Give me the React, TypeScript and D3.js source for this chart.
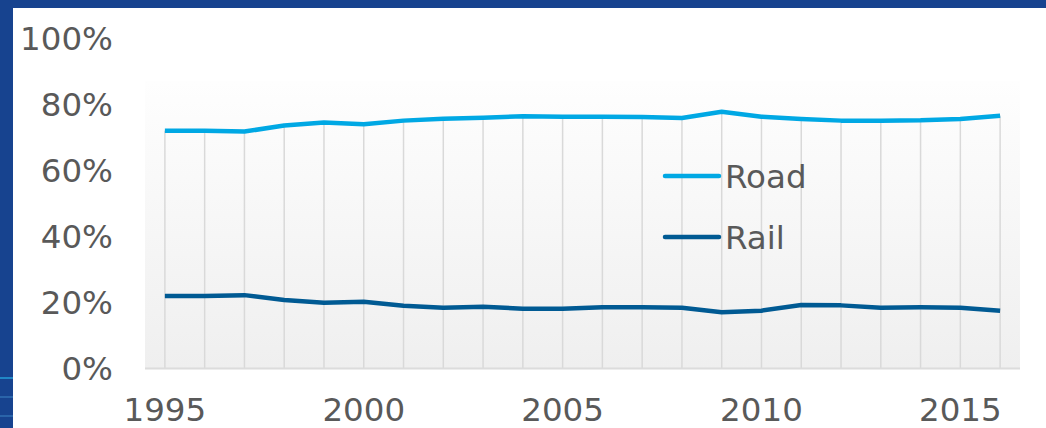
import React from 'react';
import * as d3 from 'd3';

const years = [1995, 1996, 1997, 1998, 1999, 2000, 2001, 2002, 2003, 2004, 2005, 2006, 2007, 2008, 2009, 2010, 2011, 2012, 2013, 2014, 2015, 2016];
const road = [71.9, 71.9, 71.7, 73.5, 74.4, 73.9, 75.0, 75.6, 75.9, 76.3, 76.2, 76.2, 76.1, 75.8, 77.7, 76.2, 75.5, 75.0, 75.0, 75.1, 75.5, 76.5];
const rail = [21.9, 21.9, 22.2, 20.7, 19.9, 20.2, 19.0, 18.4, 18.7, 18.1, 18.1, 18.5, 18.5, 18.4, 17.0, 17.5, 19.2, 19.1, 18.4, 18.5, 18.4, 17.5];
const yTicks = [0, 20, 40, 60, 80, 100];
const xTickYears = [1995, 2000, 2005, 2010, 2015];

const seriesNames = ['Road', 'Rail'];
const seriesColors = ['#00a8e4', '#005a93'];

const W = 1046;
const H = 428;
const plotLeft = 145;
const plotRight = 1020;
const plotTop = 81;
const plotBottom = 368.5;
const font = '"DejaVu Sans", Verdana, sans-serif';
const fontSize = 32.5;
const textColor = '#595959';

const App: React.FC = () => {
  const x = d3.scalePoint<number>()
    .domain(years)
    .range([plotLeft, plotRight])
    .padding(0.5);

  const y = d3.scaleLinear()
    .domain([0, 100])
    .range([plotBottom, 38]);

  const line = d3.line<number>()
    .x((_, i) => x(years[i]) as number)
    .y(d => y(d));

  const series = [road, rail];

  return (
    <svg width={W} height={H} style={{ position: 'absolute', left: 0, top: 0 }}>
      <defs>
        <linearGradient id="plotBg" x1="0" y1="0" x2="0" y2="1">
          <stop offset="0%" stopColor="#fefefe" />
          <stop offset="100%" stopColor="#efefef" />
        </linearGradient>
      </defs>
      <rect x={0} y={0} width={W} height={H} fill="#ffffff" />

      {/* frame */}
      <rect x={0} y={0} width={W} height={8} fill="#17438f" />
      <rect x={0} y={0} width={13} height={H} fill="#17438f" />
      <line x1={0} x2={13} y1={378} y2={378} stroke="#29b6ec" strokeWidth={1.2} />
      <line x1={0} x2={13} y1={397} y2={397} stroke="#3f86c4" strokeWidth={1} />
      <line x1={0} x2={13} y1={416} y2={416} stroke="#3f86c4" strokeWidth={1} />

      {/* plot area */}
      <rect x={plotLeft} y={plotTop} width={plotRight - plotLeft} height={plotBottom - plotTop} fill="url(#plotBg)" />

      {/* drop lines */}
      {years.map((yr, i) => (
        <line
          key={yr}
          x1={x(yr)}
          x2={x(yr)}
          y1={y(road[i])}
          y2={plotBottom}
          stroke="#d9d9d9"
          strokeWidth={1.5}
        />
      ))}
      <line x1={plotLeft} x2={plotRight} y1={plotBottom} y2={plotBottom} stroke="#dcdcdc" strokeWidth={2} />

      {/* series */}
      {series.map((s, k) => (
        <path
          key={seriesNames[k]}
          d={line(s) as string}
          fill="none"
          stroke={seriesColors[k]}
          strokeWidth={4.5}
          strokeLinejoin="round"
        />
      ))}

      {/* y axis labels */}
      {yTicks.map(t => (
        <text
          key={t}
          x={113}
          y={y(t)}
          dy="0.36em"
          textAnchor="end"
          fontFamily={font}
          fontSize={fontSize}
          fill={textColor}
        >
          {t}%
        </text>
      ))}

      {/* x axis labels */}
      {xTickYears.map(yr => (
        <text
          key={yr}
          x={x(yr)}
          y={421}
          textAnchor="middle"
          fontFamily={font}
          fontSize={fontSize}
          fill={textColor}
        >
          {yr}
        </text>
      ))}

      {/* legend */}
      {seriesNames.map((name, k) => (
        <g key={name} transform={`translate(665, ${176 + k * 61})`}>
          <line x1={0} x2={54} y1={0} y2={0} stroke={seriesColors[k]} strokeWidth={4.5} strokeLinecap="round" />
          <text x={60} y={0} dy="0.36em" fontFamily={font} fontSize={fontSize} fill={textColor}>
            {name}
          </text>
        </g>
      ))}
    </svg>
  );
};

export default App;
